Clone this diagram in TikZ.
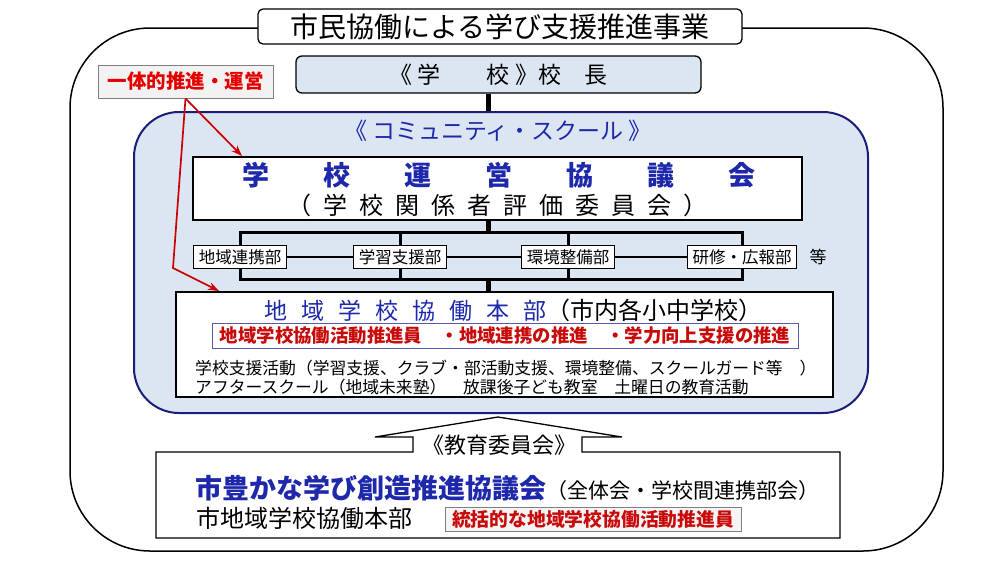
\documentclass[tikz,border=0pt]{standalone}
\usepackage{fontspec}
\setmainfont{Noto Sans CJK JP}
\usetikzlibrary{arrows.meta}
\definecolor{csblue}{RGB}{30,40,170}
\definecolor{csnavy}{RGB}{25,30,120}
\definecolor{csred}{RGB}{200,10,10}
\definecolor{paleblue}{RGB}{220,230,242}
\newcommand{\jfs}[1]{\fontsize{#1pt}{#1pt}\selectfont}
\tikzstyle{box}=[draw, line width=1.3pt, fill=white, inner sep=0pt]
\tikzstyle{deptbox}=[draw, line width=1.2pt, fill=white, minimum height=23pt, inner xsep=5pt, inner ysep=0pt, font=\jfs{16.5}]
\tikzstyle{txt}=[inner sep=0pt, anchor=west]
\tikzstyle{redbox}=[draw=gray, line width=0.9pt, inner sep=0pt, text=csred, font=\jfs{18.4}\bfseries]
\tikzstyle{treeline}=[line width=3pt]
\tikzstyle{stem}=[line width=5pt]
\tikzstyle{redarrow}=[draw=red!80!black, line width=1.7pt, -{Stealth[length=11pt,width=8pt]}]

\begin{document}
\begin{tikzpicture}[x=1pt, y=-1pt]
\useasboundingbox (0,0) rectangle (1000,562);
\draw[line width=1.5pt, rounded corners=80pt] (70,28) rectangle (943,551);
\node[box, rounded corners=5pt, minimum width=484pt, minimum height=35pt, font=\jfs{28}] (title) at (500,26.5) {市民協働による学び支援推進事業};
\node[box, fill=paleblue, rounded corners=6pt, minimum width=405pt, minimum height=37pt, font=\jfs{23}] (school) at (498.5,74.5) {《 学　　校 》校　長};
\node[draw=gray, fill=gray!10, line width=1pt, minimum width=175pt, minimum height=33pt, inner sep=0pt, text=red!90!black, font=\jfs{19.5}\bfseries] (ittai) at (185.5,81.5) {一体的推進・運営};

\coordinate (cstop) at (488,112);
\coordinate (upbar) at (488,232);
\coordinate (lowbar) at (488,279);
\draw[stem] (school.south -| cstop) -- (cstop);
\draw[line width=2pt, draw=csnavy, fill=paleblue, rounded corners=45pt] (134,112) rectangle (868,413);
\node[font=\jfs{23}, text=csblue] (cstitle) at (498,131) {《 コミュニティ・スクール 》};

\node[box, minimum width=609pt, minimum height=63pt] (kyogikai) at (497.5,188.5) {};
\node[font=\jfs{27}\bfseries, text=csblue] (kyogi1) at (499,175) {学　　校　　運　　営　　協　　議　　会};
\node[font=\jfs{24}] (kyogi2) at (497,205) {\spaceskip=12pt （ 学 校 関 係 者 評 価 委 員 会 ）};

\node[deptbox] (renkei) at (240,257) {地域連携部};
\node[deptbox] (gakushu) at (400,257) {学習支援部};
\node[deptbox] (kankyo) at (568,257) {環境整備部};
\node[deptbox] (kenshu) at (742,257) {研修・広報部};
\node[font=\jfs{17}] (nado) at (818,257) {等};

\node[box, minimum width=657pt, minimum height=105pt] (honbu) at (504.5,344.5) {};
\draw[stem] (kyogikai.south -| upbar) -- (upbar);
\draw[treeline] (renkei.north) -- (renkei |- upbar) -- (kenshu |- upbar) -- (kenshu.north);
\draw[treeline] (renkei.south) -- (renkei |- lowbar) -- (kenshu |- lowbar) -- (kenshu.south);
\draw[treeline] (gakushu.north) -- (gakushu |- upbar) (gakushu.south) -- (gakushu |- lowbar);
\draw[treeline] (kankyo.north) -- (kankyo |- upbar) (kankyo.south) -- (kankyo |- lowbar);
\draw[line width=1.2pt] (renkei.east) -- (gakushu.west) (gakushu.east) -- (kankyo.west) (kankyo.east) -- (kenshu.west);
\draw[stem] (lowbar) -- (honbu.north -| lowbar);

\node[txt] (honbu1) at (264,310) {{\jfs{23}\color{csblue}\spaceskip=14pt 地 域 学 校 協 働 本 部}{\jfs{24}（市内各小中学校）}};
\node[redbox, fill=white, draw=gray!70!blue, minimum width=586pt, minimum height=25pt] (suishin) at (505,335.5) {地域学校協働活動推進員　・地域連携の推進　・学力向上支援の推進};
\node[txt, font=\jfs{16.8}] (katsudo) at (195,368) {学校支援活動（学習支援、クラブ・部活動支援、環境整備、スクールガード等　）};
\node[txt, font=\jfs{16.8}] (after) at (195,387) {アフタースクール（地域未来塾）　放課後子ども教室　土曜日の教育活動};

\draw[line width=1.3pt, fill=white] (156,452) -- (413,452) -- (413,437) -- (375,437) -- (498,417) -- (622,437) -- (582,437) -- (582,452) -- (840,452) -- (840,538) -- (156,538) -- cycle;
\node[font=\jfs{22}] (kyoi) at (499,445) {《教育委員会》};
\node[txt] (yutaka) at (195,488) {{\jfs{27}\bfseries\color{csblue}市豊かな学び創造推進協議会}{\jfs{21}（全体会・学校間連携部会）}};
\node[txt, font=\jfs{24}] (shihonbu) at (196,518) {市地域学校協働本部};
\node[redbox, fill=gray!8, minimum width=296pt, minimum height=24pt, font=\jfs{18.8}\bfseries] (toukatsu) at (593,519) {統括的な地域学校協働活動推進員};

\coordinate (tipA) at (242,156);
\coordinate (bend) at (173,268);
\coordinate (tipB) at (219,291);
\draw[redarrow] (ittai.south) -- (tipA);
\draw[redarrow] (ittai.south) -- (bend) -- (tipB);
\end{tikzpicture}
\end{document}
